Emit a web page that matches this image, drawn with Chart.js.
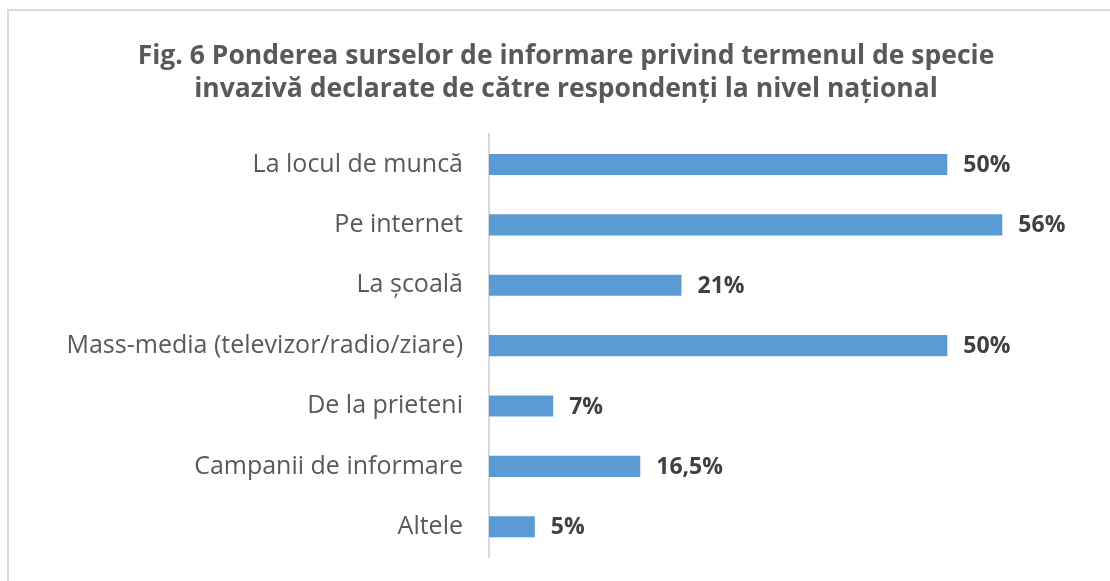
<!DOCTYPE html>
<html>
<head>
<meta charset="utf-8">
<script src="https://cdn.jsdelivr.net/npm/chart.js@4"></script>
<style>
  html, body { margin: 0; padding: 0; background: #fff; }
  .frame { position: absolute; left: 7px; top: 9px; width: 1120px; height: 600px; border: 2px solid #d9d9d9; box-sizing: border-box; }
  #wrap { position: absolute; left: 0; top: 0; width: 1110px; height: 581px; }
</style>
</head>
<body>
<div class="frame"></div>
<div id="wrap"><canvas id="chart"></canvas></div>
<script>
const categories = [
  'La locul de muncă',
  'Pe internet',
  'La școală',
  'Mass-media (televizor/radio/ziare)',
  'De la prieteni',
  'Campanii de informare',
  'Altele'
];
const values = [50, 56, 21, 50, 7, 16.5, 5];
const valueLabels = ['50%', '56%', '21%', '50%', '7%', '16,5%', '5%'];
const titleLines = [
  'Fig. 6 Ponderea surselor de informare privind termenul de specie',
  'invazivă declarate de către respondenți la nivel național'
];

const FONT = '"Open Sans", "Noto Sans", sans-serif';

// bold percentage after each bar
const barLabels = {
  id: 'barLabels',
  afterDatasetsDraw(chart) {
    const ctx = chart.ctx;
    const meta = chart.getDatasetMeta(0);
    ctx.save();
    ctx.font = 'bold 23px ' + FONT;
    ctx.fillStyle = '#404040';
    ctx.textAlign = 'left';
    ctx.textBaseline = 'middle';
    meta.data.forEach((bar, i) => {
      ctx.fillText(valueLabels[i], bar.x + 16, bar.y + 1);
    });
    ctx.restore();
  }
};

new Chart(document.getElementById('chart'), {
  type: 'bar',
  data: {
    labels: categories,
    datasets: [{
      data: values,
      backgroundColor: '#5b9bd5',
      borderWidth: 0,
      barPercentage: 0.7,
      categoryPercentage: 0.5
    }]
  },
  options: {
    indexAxis: 'y',
    responsive: true,
    maintainAspectRatio: false,
    animation: false,
    layout: { padding: { left: 60, right: 38, top: 30, bottom: 24 } },
    plugins: {
      legend: { display: false },
      tooltip: { enabled: false },
      title: {
        display: true,
        text: titleLines,
        color: '#595959',
        font: { family: FONT, size: 26.5, weight: 'bold', lineHeight: 1.25 },
        padding: { top: 10, bottom: 28 }
      }
    },
    scales: {
      x: {
        display: false,
        min: 0,
        max: 63.6
      },
      y: {
        grid: { display: false },
        border: { display: true, color: '#d9d9d9', width: 2 },
        ticks: {
          color: '#595959',
          padding: 18,
          font: { family: FONT, size: 25 }
        },
        afterFit(scale) {
          scale.width = 429;
          scale.paddingTop = 0;
          scale.paddingBottom = 0;
        }
      }
    }
  },
  plugins: [barLabels]
});
</script>
</body>
</html>
